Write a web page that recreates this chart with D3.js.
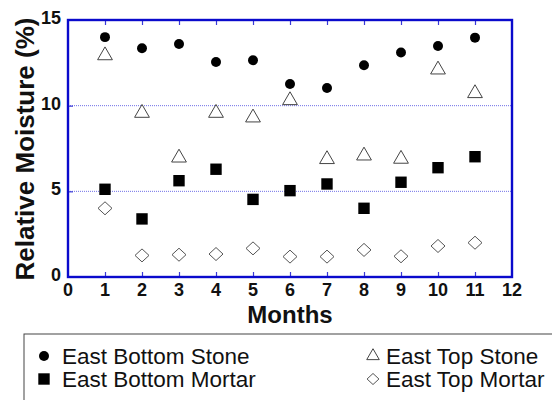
<!DOCTYPE html>
<html>
<head>
<meta charset="utf-8">
<script src="https://cdn.jsdelivr.net/npm/d3@7/dist/d3.min.js"></script>
<style>
  html, body { margin: 0; padding: 0; background: #fff; }
  svg { display: block; font-family: "Liberation Sans", Arial, sans-serif; }
</style>
</head>
<body>
<svg id="chart" width="552" height="400"></svg>
<script>
// Monthly relative moisture readings (%), east wall
const months = [1, 2, 3, 4, 5, 6, 7, 8, 9, 10, 11];
const eastBottomStone  = [14.0, 13.35, 13.6, 12.55, 12.65, 11.27, 11.03, 12.36, 13.1, 13.48, 13.97];
const eastTopStone     = [12.93, 9.57, 6.96, 9.57, 9.3, 10.31, 6.87, 7.08, 6.89, 12.1, 10.72];
const eastBottomMortar = [5.12, 3.39, 5.62, 6.29, 4.53, 5.04, 5.43, 4.01, 5.53, 6.38, 7.02];
const eastTopMortar    = [4.01, 1.26, 1.30, 1.34, 1.67, 1.19, 1.19, 1.58, 1.21, 1.81, 2.0];

const xTicks = [0, 1, 2, 3, 4, 5, 6, 7, 8, 9, 10, 11, 12];
const yTicks = [0, 5, 10, 15];
const gridValues = [5, 10];

const seriesNames = ["East Bottom Stone", "East Top Stone", "East Bottom Mortar", "East Top Mortar"];

const svg = d3.select("#chart");
const frameColor = "#0a0acc";

const x = d3.scaleLinear().domain([0, 12]).range([68, 512]);
const y = d3.scaleLinear().domain([0, 15]).range([277, 20]);

// dotted gridlines
svg.append("g").selectAll("line").data(gridValues).join("line")
  .attr("x1", x(0)).attr("x2", x(12))
  .attr("y1", d => y(d)).attr("y2", d => y(d))
  .attr("stroke", "#6f6fe6").attr("stroke-width", 1)
  .attr("stroke-dasharray", "1,1");

// inward ticks, bottom, top and left
const innerMonths = xTicks.filter(d => d > 0 && d < 12);
const bottomAxis = d3.axisBottom(x).tickValues(innerMonths).tickSize(-5).tickFormat("");
const topAxis = d3.axisTop(x).tickValues(innerMonths).tickSize(-5).tickFormat("");
const leftAxis = d3.axisLeft(y).tickValues(gridValues).tickSize(-5).tickFormat("");
[[bottomAxis, `translate(0,${y(0)})`], [topAxis, `translate(0,${y(15)})`], [leftAxis, `translate(${x(0)},0)`]]
  .forEach(([ax, tr]) => {
    const g = svg.append("g").attr("transform", tr).call(ax);
    g.select(".domain").remove();
    g.selectAll(".tick line").attr("stroke", "#3a3ad8").attr("stroke-width", 1.2);
  });

// plot frame
svg.append("rect")
  .attr("x", x(0)).attr("y", y(15))
  .attr("width", x(12) - x(0)).attr("height", y(0) - y(15))
  .attr("fill", "none").attr("stroke", frameColor).attr("stroke-width", 2.4);

// tick labels
svg.append("g").selectAll("text").data(xTicks).join("text")
  .attr("x", d => x(d)).attr("y", 296)
  .attr("text-anchor", "middle")
  .attr("font-size", 18).attr("font-weight", "bold").attr("fill", "#111")
  .text(d => d);

svg.append("g").selectAll("text").data(yTicks).join("text")
  .attr("x", 61).attr("y", d => y(d) + 4)
  .attr("text-anchor", "end")
  .attr("font-size", 18).attr("font-weight", "bold").attr("fill", "#111")
  .text(d => d);

// axis titles
svg.append("text")
  .attr("x", 290).attr("y", 323)
  .attr("text-anchor", "middle")
  .attr("font-size", 24).attr("font-weight", "bold").attr("fill", "#111")
  .text("Months");

svg.append("text")
  .attr("transform", "translate(34,149) rotate(-90)")
  .attr("text-anchor", "middle")
  .attr("font-size", 26).attr("font-weight", "bold").attr("fill", "#111")
  .text("Relative Moisture (%)");

// marker shapes
const shapes = {
  circle:   { type: d3.symbolCircle,   size: 78,  fill: "#000", stroke: "none" },
  square:   { type: d3.symbolSquare,   size: 130, fill: "#000", stroke: "none" },
  triangle: { type: d3.symbolTriangle, size: 95,  fill: "#fff", stroke: "#444" },
  diamond:  { type: "diamond",         w: 14, h: 13, fill: "#fff", stroke: "#555" }
};

function markerPath(shape, scale = 1) {
  if (shape.type === "diamond") {
    const w = shape.w * scale / 2, h = shape.h * scale / 2;
    return `M0,${-h}L${w},0L0,${h}L${-w},0Z`;
  }
  return d3.symbol().type(shape.type).size(shape.size * scale * scale)();
}

const series = [
  { name: seriesNames[0], values: eastBottomStone,  shape: shapes.circle },
  { name: seriesNames[1], values: eastTopStone,     shape: shapes.triangle },
  { name: seriesNames[2], values: eastBottomMortar, shape: shapes.square },
  { name: seriesNames[3], values: eastTopMortar,    shape: shapes.diamond }
];

series.forEach(s => {
  svg.append("g").selectAll("path").data(months).join("path")
    .attr("transform", (m, i) => `translate(${x(m)},${y(s.values[i])})`)
    .attr("d", markerPath(s.shape))
    .attr("fill", s.shape.fill)
    .attr("stroke", s.shape.stroke)
    .attr("stroke-width", 1);
});

// legend box
svg.append("rect")
  .attr("x", 24).attr("y", 334).attr("width", 560).attr("height", 80)
  .attr("fill", "none").attr("stroke", "#444").attr("stroke-width", 1);

const legendItems = [
  { s: series[0], mx: 44,  tx: 62,  cy: 356 },
  { s: series[1], mx: 373, tx: 386, cy: 356 },
  { s: series[2], mx: 44,  tx: 62,  cy: 379 },
  { s: series[3], mx: 373, tx: 386, cy: 379 }
];

const lg = svg.append("g").selectAll("g").data(legendItems).join("g");
lg.append("path")
  .attr("transform", d => `translate(${d.mx},${d.cy})`)
  .attr("d", d => markerPath(d.s.shape, d.s.shape === shapes.triangle || d.s.shape === shapes.diamond ? 0.85 : 1))
  .attr("fill", d => d.s.shape.fill)
  .attr("stroke", d => d.s.shape.stroke)
  .attr("stroke-width", 1);
lg.append("text")
  .attr("x", d => d.tx).attr("y", d => d.cy + 8)
  .attr("font-size", 22.5).attr("fill", "#111")
  .text(d => d.s.name);
</script>
</body>
</html>
